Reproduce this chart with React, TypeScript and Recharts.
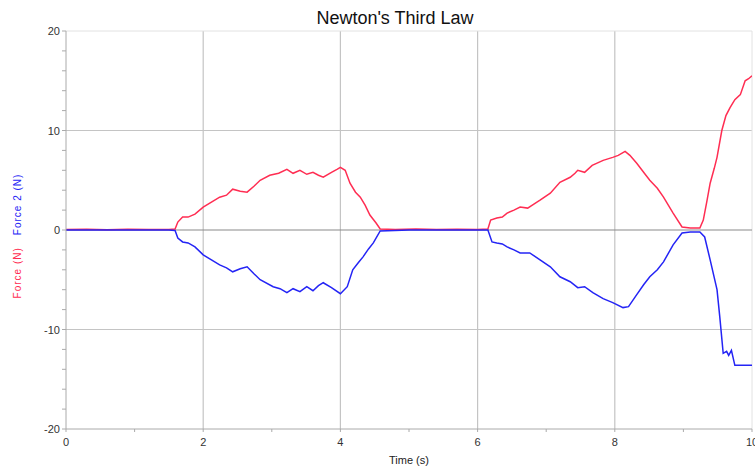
import { CartesianGrid, Line, LineChart, ReferenceLine, XAxis, YAxis } from 'recharts';

const forceTime = [
  0, 0.3, 0.6, 0.9, 1.2, 1.5, 1.59, 1.63, 1.7, 1.78,
  1.88, 2.0, 2.12, 2.24, 2.34, 2.43, 2.54, 2.64, 2.74, 2.83,
  2.97, 3.1, 3.22, 3.31, 3.41, 3.51, 3.6, 3.68, 3.75, 3.87,
  3.95, 4.0, 4.07, 4.14, 4.22, 4.29, 4.36, 4.43, 4.52, 4.58,
  4.8, 5.1, 5.4, 5.7, 6.0, 6.15, 6.19, 6.28, 6.36, 6.43,
  6.53, 6.62, 6.73, 6.82, 6.91, 7.06, 7.2, 7.35, 7.42, 7.46,
  7.56, 7.67, 7.83, 7.97, 8.05, 8.15, 8.22, 8.32, 8.42, 8.51,
  8.62, 8.71, 8.85, 8.98, 9.1, 9.24, 9.29, 9.34, 9.39, 9.45,
  9.49, 9.56, 9.62, 9.68, 9.75, 9.83, 9.9, 9.95, 10,
];
const forceN = [
  0.05, 0.08, 0.03, 0.07, 0.05, 0.06, 0.1, 0.8, 1.3, 1.3,
  1.6, 2.3, 2.8, 3.3, 3.5, 4.1, 3.9, 3.8, 4.4, 5.0,
  5.5, 5.7, 6.1, 5.7, 6.0, 5.6, 5.8, 5.5, 5.3, 5.8,
  6.1, 6.3, 6.0, 4.7, 3.8, 3.3, 2.5, 1.5, 0.7, 0.1,
  0.05, 0.1, 0.05, 0.08, 0.06, 0.1, 1.0, 1.2, 1.3, 1.7,
  2.0, 2.3, 2.2, 2.6, 3.0, 3.7, 4.8, 5.3, 5.7, 6.0,
  5.8, 6.5, 7.0, 7.3, 7.5, 7.9, 7.5, 6.7, 5.8, 5.0,
  4.2, 3.3, 1.7, 0.3, 0.2, 0.2, 1.0, 2.8, 4.7, 6.2,
  7.3, 10, 11.5, 12.3, 13.1, 13.6, 15.0, 15.2, 15.5,
];

const force2Time = [
  0, 0.5, 1.0, 1.5, 1.59, 1.63, 1.7, 1.78, 1.88, 2.0,
  2.12, 2.24, 2.34, 2.43, 2.54, 2.64, 2.74, 2.83, 3.02, 3.12,
  3.22, 3.31, 3.41, 3.51, 3.6, 3.68, 3.75, 3.87, 4.0, 4.1,
  4.18, 4.26, 4.33, 4.41, 4.48, 4.58, 5.0, 5.5, 6.0, 6.15,
  6.21, 6.28, 6.36, 6.43, 6.53, 6.62, 6.76, 6.91, 7.06, 7.2,
  7.35, 7.46, 7.56, 7.68, 7.83, 7.97, 8.12, 8.2, 8.32, 8.42,
  8.51, 8.62, 8.71, 8.85, 8.98, 9.1, 9.24, 9.31, 9.39, 9.49,
  9.53, 9.58, 9.63, 9.66, 9.7, 9.75, 10,
];
const force2N = [
  0, 0, 0, 0, -0.05, -0.8, -1.2, -1.3, -1.7, -2.5,
  -3.0, -3.5, -3.8, -4.2, -3.9, -3.7, -4.4, -5.0, -5.7, -5.9,
  -6.3, -5.9, -6.2, -5.7, -6.1, -5.6, -5.3, -5.8, -6.4, -5.7,
  -4.0, -3.3, -2.7, -1.9, -1.3, -0.1, 0, 0, 0, 0,
  -1.2, -1.3, -1.4, -1.7, -2.0, -2.3, -2.3, -3.0, -3.7, -4.7,
  -5.2, -5.8, -5.7, -6.3, -6.9, -7.3, -7.8, -7.7, -6.5, -5.5,
  -4.7, -4.0, -3.2, -1.5, -0.3, -0.2, -0.2, -0.7, -3.0, -6.0,
  -8.7, -12.4, -12.2, -12.6, -12.1, -13.6, -13.6,
];

const xTicks = [0, 1, 2, 3, 4, 5, 6, 7, 8, 9, 10];
const yTicks = [-20, -18, -16, -14, -12, -10, -8, -6, -4, -2, 0, 2, 4, 6, 8, 10, 12, 14, 16, 18, 20];
const xGrid = [2, 4, 6, 8];
const yGrid = [-10, 10];

const forceData = forceTime.map((t, i) => ({ t, f: forceN[i] }));
const force2Data = force2Time.map((t, i) => ({ t, f: force2N[i] }));

const RED = '#ff2d52';
const BLUE = '#2424f5';
const FONT = '"Liberation Sans", Arial, sans-serif';

function XTick({ x, y, payload }: any) {
  const v = payload.value;
  const major = v % 2 === 0;
  return (
    <g>
      <line x1={x} x2={x} y1={y} y2={y + 3} stroke="#aaa" />
      {major && (
        <text x={x} y={y + 17} textAnchor="middle" fontSize={11} fill="#333" fontFamily={FONT}>
          {v}
        </text>
      )}
    </g>
  );
}

function YTick({ x, y, payload }: any) {
  const v = payload.value;
  const major = v % 10 === 0;
  return (
    <g>
      <line x1={x - 4} x2={x} y1={y} y2={y} stroke="#aaa" />
      {major && (
        <text x={x - 6} y={y + 4} textAnchor="end" fontSize={11} fill="#333" fontFamily={FONT}>
          {v}
        </text>
      )}
    </g>
  );
}

function YLabel() {
  return (
    <text
      x={21}
      y={236}
      transform="rotate(-90 21 236)"
      textAnchor="middle"
      fontSize={10}
      letterSpacing={1}
      fontFamily={FONT}
    >
      <tspan fill={RED}>Force (N)</tspan>
      <tspan fill={BLUE} dx={12}>Force 2 (N)</tspan>
    </text>
  );
}

export default function App() {
  return (
    <div style={{ position: 'absolute', left: 0, top: 0, width: 755, height: 466, background: '#fff' }}>
      <div
        style={{
          position: 'absolute',
          left: 0,
          width: 790,
          top: 8,
          textAlign: 'center',
          fontFamily: FONT,
          fontSize: 18,
          color: '#111',
        }}
      >
        Newton's Third Law
      </div>
      <LineChart
        width={755}
        height={466}
        margin={{ top: 31, right: 3, bottom: 0, left: 0 }}
        style={{ position: 'absolute', left: 0, top: 0 }}
      >
        <CartesianGrid horizontal={false} vertical={false} />
        <XAxis
          type="number"
          dataKey="t"
          domain={[0, 10]}
          ticks={xTicks}
          interval={0}
          tick={<XTick />}
          tickLine={false}
          tickSize={0}
          tickMargin={0}
          axisLine={{ stroke: '#aaa' }}
          height={37}
          allowDataOverflow
          label={{
            value: 'Time (s)',
            position: 'insideBottom',
            offset: 2,
            fontSize: 11,
            fill: '#222',
            fontFamily: FONT,
          }}
        />
        <YAxis
          type="number"
          domain={[-20, 20]}
          ticks={yTicks}
          interval={0}
          width={66}
          tick={<YTick />}
          tickLine={false}
          tickSize={0}
          tickMargin={0}
          axisLine={{ stroke: '#aaa' }}
          allowDataOverflow
          label={{ content: () => <YLabel /> }}
        />
        {xGrid.map((v) => (
          <ReferenceLine key={`x${v}`} x={v} stroke="#c4c4c4" strokeWidth={1.2} />
        ))}
        {yGrid.map((v) => (
          <ReferenceLine key={`y${v}`} y={v} stroke="#c4c4c4" strokeWidth={1.2} />
        ))}
        <ReferenceLine y={20} stroke="#e2e2e2" />
        <ReferenceLine x={10} stroke="#e2e2e2" />
        <ReferenceLine y={0} stroke="#8a8a8a" strokeWidth={1.2} />
        <Line
          data={forceData}
          dataKey="f"
          type="linear"
          stroke={RED}
          strokeWidth={1.5}
          dot={false}
          isAnimationActive={false}
        />
        <Line
          data={force2Data}
          dataKey="f"
          type="linear"
          stroke={BLUE}
          strokeWidth={1.5}
          dot={false}
          isAnimationActive={false}
        />
      </LineChart>
    </div>
  );
}
